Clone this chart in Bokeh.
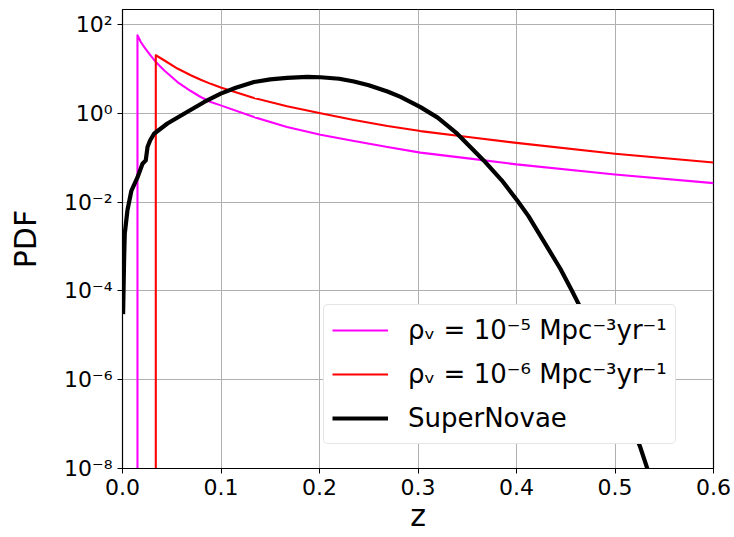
from bokeh.plotting import figure
from bokeh.models import (FixedTicker, Legend, LegendItem, Range1d,
                          CustomJSTickFormatter)
from bokeh.embed import file_html
from bokeh.resources import INLINE

# ---------------- data ----------------
floor_val = 1e-12  # PDF is zero before the cutoff (drawn below the axis)

rho5_z = [0.0152, 0.0152, 0.0186, 0.0219, 0.027, 0.0338, 0.0422, 0.0558,
          0.0693, 0.0794, 0.0896, 0.0997, 0.1335, 0.167, 0.201, 0.235,
          0.269, 0.3025, 0.353, 0.4, 0.5, 0.6]
rho5_pdf = [floor_val, 57.5, 40.5, 31.3, 22.2, 14.4, 9.3, 5.07,
            3.18, 2.33, 1.80, 1.51, 0.824, 0.491, 0.330, 0.237,
            0.174, 0.130, 0.0955, 0.0708, 0.042, 0.0268]

rho6_z = [0.0338, 0.0338, 0.0422, 0.0558, 0.0693, 0.0794, 0.0896, 0.0997,
          0.1335, 0.167, 0.201, 0.235, 0.269, 0.3025, 0.353, 0.4, 0.5, 0.6]
rho6_pdf = [floor_val, 20.3, 15.7, 10.2, 7.2, 5.70, 4.61, 3.81,
            2.21, 1.44, 1.00, 0.708, 0.519, 0.398, 0.288, 0.216, 0.123,
            0.0783]

sn_z = [0.0006, 0.0016, 0.0023, 0.005, 0.009, 0.0152, 0.0203, 0.0236,
        0.0254, 0.028, 0.032, 0.0456, 0.0625, 0.083, 0.0997, 0.115, 0.1335,
        0.15, 0.167, 0.1876, 0.201, 0.22, 0.235, 0.25, 0.269, 0.2823, 0.3025,
        0.32, 0.3398, 0.3667, 0.385, 0.4006, 0.412, 0.424, 0.4445, 0.4564,
        0.463, 0.48, 0.50, 0.5257, 0.5325, 0.54]
sn_pdf = [3.0e-5, 4.8e-4, 1.95e-3, 6.5e-3, 1.8e-2, 3.6e-2, 7.3e-2, 8.7e-2,
          0.174, 0.245, 0.347, 0.59, 0.98, 1.8, 2.78, 3.76, 5.07,
          5.8, 6.3, 6.6, 6.5, 6.0, 5.2, 4.27, 3.09, 2.34, 1.38,
          0.80, 0.348, 0.087, 0.031, 0.011, 4.9e-3, 1.78e-3, 3.16e-4, 1.0e-4,
          5.1e-5, 8.1e-6, 7.8e-7, 3.0e-8, 1.05e-8, 2.5e-9]

legend_labels = ["ρᵥ = 10⁻⁵ Mpc⁻³yr⁻¹", "ρᵥ = 10⁻⁶ Mpc⁻³yr⁻¹", "SuperNovae"]

x_ticks = [0.0, 0.1, 0.2, 0.3, 0.4, 0.5, 0.6]
x_tick_labels = ["0.0", "0.1", "0.2", "0.3", "0.4", "0.5", "0.6"]
y_ticks = [1e-8, 1e-6, 1e-4, 1e-2, 1e0, 1e2]
y_tick_labels = ["10⁻⁸", "10⁻⁶", "10⁻⁴", "10⁻²", "10⁰", "10²"]

FONT = "DejaVu Sans"

# ---------------- figure ----------------
p = figure(width=734, height=537, output_backend="svg", toolbar_location=None,
           y_axis_type="log",
           x_range=Range1d(0.0, 0.6), y_range=Range1d(1e-8, 218),
           min_border_left=122, min_border_right=21,
           min_border_top=9, min_border_bottom=69)

p.background_fill_color = "white"
p.border_fill_color = "white"
p.outline_line_color = "black"
p.outline_line_width = 1.2
p.outline_line_alpha = 1.0

r5 = p.line(rho5_z, rho5_pdf, line_color="#ff00ff", line_width=2.1,
            line_join="round")
r6 = p.line(rho6_z, rho6_pdf, line_color="#ff0000", line_width=2.1,
            line_join="round")
rs = p.line(sn_z, sn_pdf, line_color="black", line_width=4.2,
            line_join="round")

# axes
p.xaxis.ticker = FixedTicker(ticks=x_ticks)
p.yaxis.ticker = FixedTicker(ticks=y_ticks)
p.xaxis.formatter = CustomJSTickFormatter(
    args=dict(vals=x_ticks, labels=x_tick_labels),
    code="for (let i=0;i<vals.length;i++){ if (Math.abs(tick-vals[i])<1e-9) return labels[i]; } return '';")
p.yaxis.formatter = CustomJSTickFormatter(
    args=dict(vals=y_ticks, labels=y_tick_labels),
    code="for (let i=0;i<vals.length;i++){ if (Math.abs(Math.log10(tick)-Math.log10(vals[i]))<1e-6) return labels[i]; } return '';")

for ax in (p.xaxis, p.yaxis):
    ax.major_label_text_font = FONT
    ax.major_label_text_font_size = "22px"
    ax.major_label_text_color = "black"
    ax.axis_label_text_font = FONT
    ax.axis_label_text_font_size = "30px"
    ax.axis_label_text_font_style = "normal"
    ax.axis_label_text_color = "black"
    ax.axis_line_color = "black"
    ax.major_tick_line_color = "black"
    ax.major_tick_out = 5
    ax.major_tick_in = 0
    ax.minor_tick_line_color = None
    ax.major_label_standoff = 5

p.xaxis.axis_label = "z"
p.yaxis.axis_label = "PDF"
p.xaxis.axis_label_standoff = 0
p.yaxis.axis_label_standoff = 18

p.grid.grid_line_color = "#b0b0b0"
p.grid.grid_line_width = 1
p.grid.grid_line_alpha = 1.0

# legend
legend = Legend(items=[LegendItem(label=legend_labels[0], renderers=[r5]),
                       LegendItem(label=legend_labels[1], renderers=[r6]),
                       LegendItem(label=legend_labels[2], renderers=[rs])],
                location=(201, 24))
legend.label_text_font = FONT
legend.label_text_font_size = "26px"
legend.label_text_color = "black"
legend.glyph_width = 56
legend.glyph_height = 34
legend.label_height = 34
legend.label_standoff = 20
legend.padding = 8
legend.spacing = 10
legend.margin = 0
legend.border_line_color = "#cccccc"
legend.border_line_width = 1
legend.background_fill_color = "white"
legend.background_fill_alpha = 1.0
if "border_radius" in Legend.properties():
    legend.border_radius = 5
p.add_layout(legend, "center")

open("out.html", "w").write(file_html(p, INLINE))
